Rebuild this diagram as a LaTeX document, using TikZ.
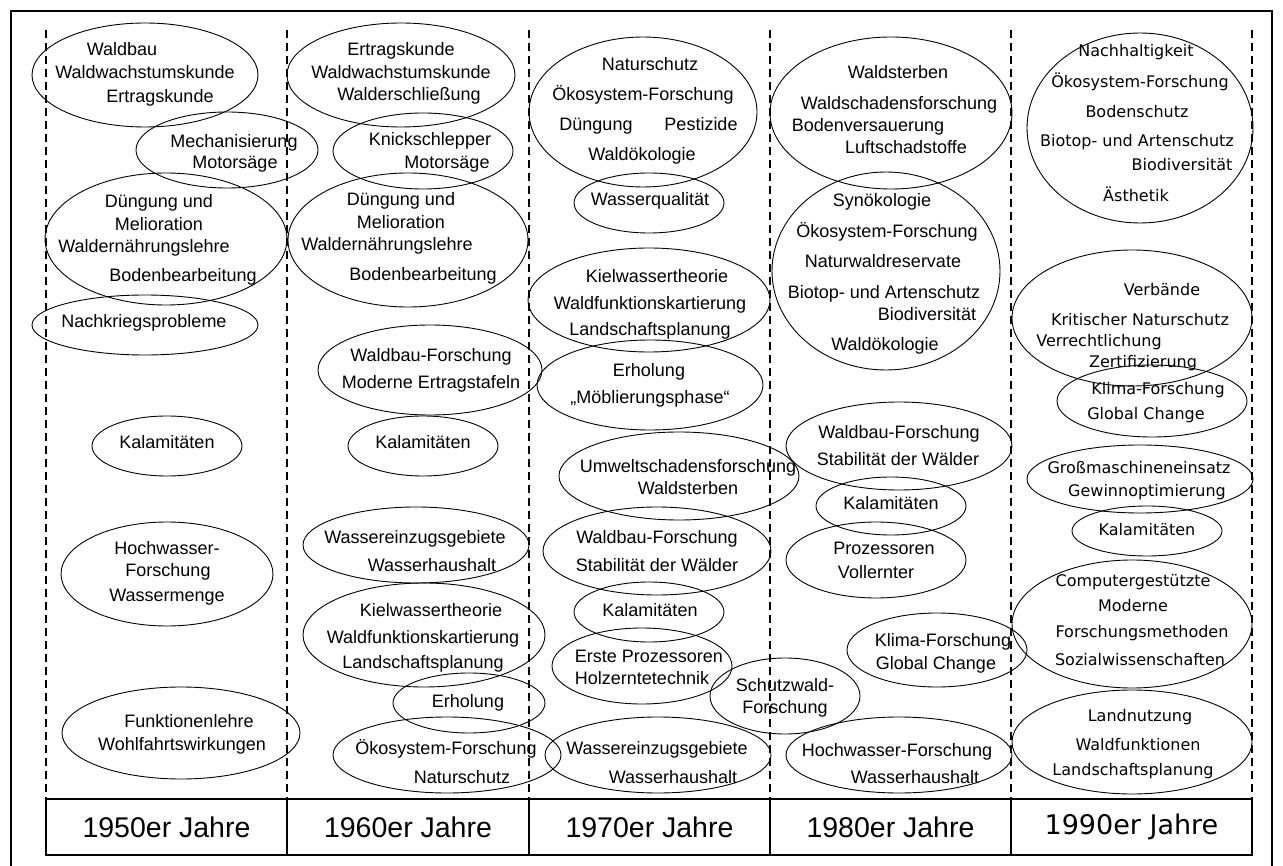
\documentclass[tikz,border=0pt]{standalone}
\usepackage{fontspec}
\setmainfont{Liberation Sans}
\newfontfamily\vfont{DejaVu Sans}
\usetikzlibrary{shapes.geometric}
\tikzset{
  bubble/.style={draw, ellipse, inner sep=0pt, line width=0.9pt},
  txt/.style={inner sep=0pt, anchor=base, yshift=-6pt, font=\fontsize{18}{20}\selectfont},
  txtv/.style={inner sep=0pt, anchor=base, yshift=-5.5pt, font=\vfont\fontsize{16}{18}\selectfont},
  cell/.style={draw, line width=1.2pt, minimum width=241pt, minimum height=56pt, inner sep=0pt, font=\fontsize{28.5}{30}\selectfont},
  divider/.style={line width=2pt, dash pattern=on 8pt off 5pt},
}
\begin{document}
\begin{tikzpicture}[x=1pt,y=-1pt]
\useasboundingbox (0,0) rectangle (1283,866);
\clip (0,0) rectangle (1283,866);
% outer frame (its lower edge lies below the page)
\draw[line width=1.8pt] (11,11) rectangle (1272,890);

% column dividers
\foreach \cx in {46,287,529,770,1011,1252}
  \draw[divider] (\cx,30) -- (\cx,799);

% decade cells
\node[cell] (y50) at (166.5,827) {1950er Jahre};
\node[cell] (y60) at (408,827) {1960er Jahre};
\node[cell] (y70) at (649.5,827) {1970er Jahre};
\node[cell] (y80) at (890.5,827) {1980er Jahre};
\node[cell, font=\vfont\fontsize{27}{29}\selectfont] (y90) at (1131.5,827) {1990er Jahre};

% ---------- 1950er ----------
\node[bubble, minimum width=226pt, minimum height=104pt] (e50a) at (145,75) {};
\node[txt] (t50a1) at (122,50) {Waldbau};
\node[txt] (t50a2) at (145,73) {Waldwachstumskunde};
\node[txt] (t50a3) at (160,97) {Ertragskunde};

\node[bubble, minimum width=182pt, minimum height=76pt] (e50b) at (227,150) {};
\node[txt] (t50b1) at (234,142) {Mechanisierung};
\node[txt] (t50b2) at (235,163) {Motorsäge};

\node[bubble, minimum width=242pt, minimum height=132pt] (e50c) at (166,239) {};
\node[txt] (t50c1) at (159,202) {Düngung und};
\node[txt] (t50c2) at (159,225) {Melioration};
\node[txt] (t50c3) at (144,247) {Waldernährungslehre};
\node[txt] (t50c4) at (183,276) {Bodenbearbeitung};

\node[bubble, minimum width=226pt, minimum height=60pt] (e50d) at (145,325) {};
\node[txt] (t50d1) at (144,322) {Nachkriegsprobleme};

\node[bubble, minimum width=150pt, minimum height=60pt] (e50e) at (167,446) {};
\node[txt] (t50e1) at (167,443) {Kalamitäten};

\node[bubble, minimum width=212pt, minimum height=104pt] (e50f) at (167,574) {};
\node[txt] (t50f1) at (167,548) {Hochwasser-};
\node[txt] (t50f2) at (168,570) {Forschung};
\node[txt] (t50f3) at (167,595) {Wassermenge};

\node[bubble, minimum width=238pt, minimum height=92pt] (e50g) at (181,733) {};
\node[txt] (t50g1) at (189,721) {Funktionenlehre};
\node[txt] (t50g2) at (182,744) {Wohlfahrtswirkungen};

% ---------- 1960er ----------
\node[bubble, minimum width=228pt, minimum height=104pt] (e60a) at (401,75) {};
\node[txt] (t60a1) at (401,50) {Ertragskunde};
\node[txt] (t60a2) at (401,73) {Waldwachstumskunde};
\node[txt] (t60a3) at (409,95) {Walderschließung};

\node[bubble, minimum width=180pt, minimum height=76pt] (e60b) at (423,151) {};
\node[txt] (t60b1) at (430,140) {Knickschlepper};
\node[txt] (t60b2) at (447,163) {Motorsäge};

\node[bubble, minimum width=240pt, minimum height=134pt] (e60c) at (408,240) {};
\node[txt] (t60c1) at (401,200) {Düngung und};
\node[txt] (t60c2) at (401,223) {Melioration};
\node[txt] (t60c3) at (387,245) {Waldernährungslehre};
\node[txt] (t60c4) at (423,275) {Bodenbearbeitung};

\node[bubble, minimum width=224pt, minimum height=90pt] (e60d) at (430,370) {};
\node[txt] (t60d1) at (431,356) {Waldbau-Forschung};
\node[txt] (t60d2) at (431,383) {Moderne Ertragstafeln};

\node[bubble, minimum width=150pt, minimum height=60pt] (e60e) at (423,446) {};
\node[txt] (t60e1) at (423,443) {Kalamitäten};

\node[bubble, minimum width=226pt, minimum height=76pt] (e60f) at (416,545) {};
\node[txt] (t60f1) at (415,537) {Wassereinzugsgebiete};
\node[txt] (t60f2) at (432,565) {Wasserhaushalt};

\node[bubble, minimum width=242pt, minimum height=104pt] (e60g) at (424,635) {};
\node[txt] (t60g1) at (431,610) {Kielwassertheorie};
\node[txt] (t60g2) at (423,637) {Waldfunktionskartierung};
\node[txt] (t60g3) at (423,662) {Landschaftsplanung};

\node[bubble, minimum width=152pt, minimum height=60pt] (e60h) at (469,703) {};
\node[txt] (t60h1) at (468,701) {Erholung};

\node[bubble, minimum width=228pt, minimum height=76pt] (e60i) at (447,755) {};
\node[txt] (t60i1) at (446,748) {Ökosystem-Forschung};
\node[txt] (t60i2) at (462,777) {Naturschutz};

% ---------- 1970er ----------
\node[bubble, minimum width=228pt, minimum height=150pt] (e70a) at (643,112) {};
\node[txt] (t70a1) at (650,65) {Naturschutz};
\node[txt] (t70a2) at (643,95) {Ökosystem-Forschung};
\node[txt] (t70a3) at (596,125) {Düngung};
\node[txt] (t70a4) at (701,125) {Pestizide};
\node[txt] (t70a5) at (642,155) {Waldökologie};

\node[bubble, minimum width=150pt, minimum height=60pt] (e70b) at (649,203) {};
\node[txt] (t70b1) at (650,200) {Wasserqualität};

\node[bubble, minimum width=242pt, minimum height=104pt] (e70c) at (649,300) {};
\node[txt] (t70c1) at (657,277) {Kielwassertheorie};
\node[txt] (t70c2) at (650,304) {Waldfunktionskartierung};
\node[txt] (t70c3) at (650,330) {Landschaftsplanung};

\node[bubble, minimum width=226pt, minimum height=90pt] (e70d) at (650,385) {};
\node[txt] (t70d1) at (649,371) {Erholung};
\node[txt] (t70d2) at (650,398) {„Möblierungsphase“};

\node[bubble, minimum width=240pt, minimum height=88pt] (e70e) at (679,476) {};
\node[txt] (t70e1) at (688,467) {Umweltschadensforschung};
\node[txt] (t70e2) at (688,488) {Waldsterben};

\node[bubble, minimum width=228pt, minimum height=88pt] (e70f) at (657,551) {};
\node[txt] (t70f1) at (657,537) {Waldbau-Forschung};
\node[txt] (t70f2) at (657,565) {Stabilität der Wälder};

\node[bubble, minimum width=150pt, minimum height=60pt] (e70g) at (649,612) {};
\node[txt] (t70g1) at (650,610) {Kalamitäten};

\node[bubble, minimum width=180pt, minimum height=76pt] (e70h) at (642,666) {};
\node[txt] (t70h1) at (649,656) {Erste Prozessoren};
\node[txt] (t70h2) at (642,678) {Holzerntetechnik};

\node[bubble, minimum width=150pt, minimum height=76pt] (e70i) at (785,696) {};
\node[txt] (t70i1) at (785,685) {Schutzwald-};
\node[txt] (t70i2) at (785,707) {Forschung};

\node[bubble, minimum width=226pt, minimum height=76pt] (e70j) at (658,755) {};
\node[txt] (t70j1) at (657,748) {Wassereinzugsgebiete};
\node[txt] (t70j2) at (673,777) {Wasserhaushalt};

% ---------- 1980er ----------
\node[bubble, minimum width=242pt, minimum height=152pt] (e80a) at (891,113) {};
\node[txt] (t80a1) at (898,73) {Waldsterben};
\node[txt] (t80a2) at (899,104) {Waldschadensforschung};
\node[txt] (t80a3) at (868,126) {Bodenversauerung};
\node[txt] (t80a4) at (906,148) {Luftschadstoffe};

\node[bubble, minimum width=228pt, minimum height=198pt] (e80b) at (886,271) {};
\node[txt] (t80b1) at (882,201) {Synökologie};
\node[txt] (t80b2) at (887,232) {Ökosystem-Forschung};
\node[txt] (t80b3) at (883,262) {Naturwaldreservate};
\node[txt] (t80b4) at (884,293) {Biotop- und Artenschutz};
\node[txt] (t80b5) at (927,315) {Biodiversität};
\node[txt] (t80b6) at (885,345) {Waldökologie};

\node[bubble, minimum width=226pt, minimum height=88pt] (e80c) at (899,446) {};
\node[txt] (t80c1) at (899,433) {Waldbau-Forschung};
\node[txt] (t80c2) at (898,459) {Stabilität der Wälder};

\node[bubble, minimum width=150pt, minimum height=58pt] (e80d) at (891,506) {};
\node[txt] (t80d1) at (891,503) {Kalamitäten};

\node[bubble, minimum width=180pt, minimum height=76pt] (e80e) at (876,560) {};
\node[txt] (t80e1) at (884,548) {Prozessoren};
\node[txt] (t80e2) at (876,572) {Vollernter};

\node[bubble, minimum width=180pt, minimum height=74pt] (e80f) at (937,650) {};
\node[txt] (t80f1) at (943,640) {Klima-Forschung};
\node[txt] (t80f2) at (936,663) {Global Change};

\node[bubble, minimum width=226pt, minimum height=76pt] (e80g) at (899,755) {};
\node[txt] (t80g1) at (897,750) {Hochwasser-Forschung};
\node[txt] (t80g2) at (915,777) {Wasserhaushalt};

% ---------- 1990er ----------
\node[bubble, minimum width=226pt, minimum height=190pt] (e90a) at (1140,128) {};
\node[txtv] (t90a1) at (1136,51) {Nachhaltigkeit};
\node[txtv] (t90a2) at (1140,82) {Ökosystem-Forschung};
\node[txtv] (t90a3) at (1137,112) {Bodenschutz};
\node[txtv] (t90a4) at (1137,141) {Biotop- und Artenschutz};
\node[txtv] (t90a5) at (1182,165) {Biodiversität};
\node[txtv] (t90a6) at (1136,196) {Ästhetik};

\node[bubble, minimum width=240pt, minimum height=136pt] (e90b) at (1132,318) {};
\node[txtv] (t90b1) at (1162,290) {Verbände};
\node[txtv] (t90b2) at (1140,320) {Kritischer Naturschutz};
\node[txtv] (t90b3) at (1099,341) {Verrechtlichung};
\node[txtv] (t90b4) at (1143,362) {Zertifizierung};

\node[bubble, minimum width=190pt, minimum height=72pt] (e90c) at (1152,401) {};
\node[txtv] (t90c1) at (1158,389) {Klima-Forschung};
\node[txtv] (t90c2) at (1146,414) {Global Change};

\node[bubble, minimum width=226pt, minimum height=68pt] (e90d) at (1140,479) {};
\node[txtv] (t90d1) at (1139,468) {Großmaschineneinsatz};
\node[txtv] (t90d2) at (1147,491) {Gewinnoptimierung};

\node[bubble, minimum width=150pt, minimum height=50pt] (e90e) at (1147,531) {};
\node[txtv] (t90e1) at (1147,530) {Kalamitäten};

\node[bubble, minimum width=240pt, minimum height=128pt] (e90f) at (1132,624) {};
\node[txtv] (t90f1) at (1133,581) {Computergestützte};
\node[txtv] (t90f2) at (1133,606) {Moderne};
\node[txtv] (t90f3) at (1142,632) {Forschungsmethoden};
\node[txtv] (t90f4) at (1140,660) {Sozialwissenschaften};

\node[bubble, minimum width=240pt, minimum height=104pt] (e90g) at (1132,742) {};
\node[txtv] (t90g1) at (1140,716) {Landnutzung};
\node[txtv] (t90g2) at (1138,745) {Waldfunktionen};
\node[txtv] (t90g3) at (1133,770) {Landschaftsplanung};
\end{tikzpicture}
\end{document}
